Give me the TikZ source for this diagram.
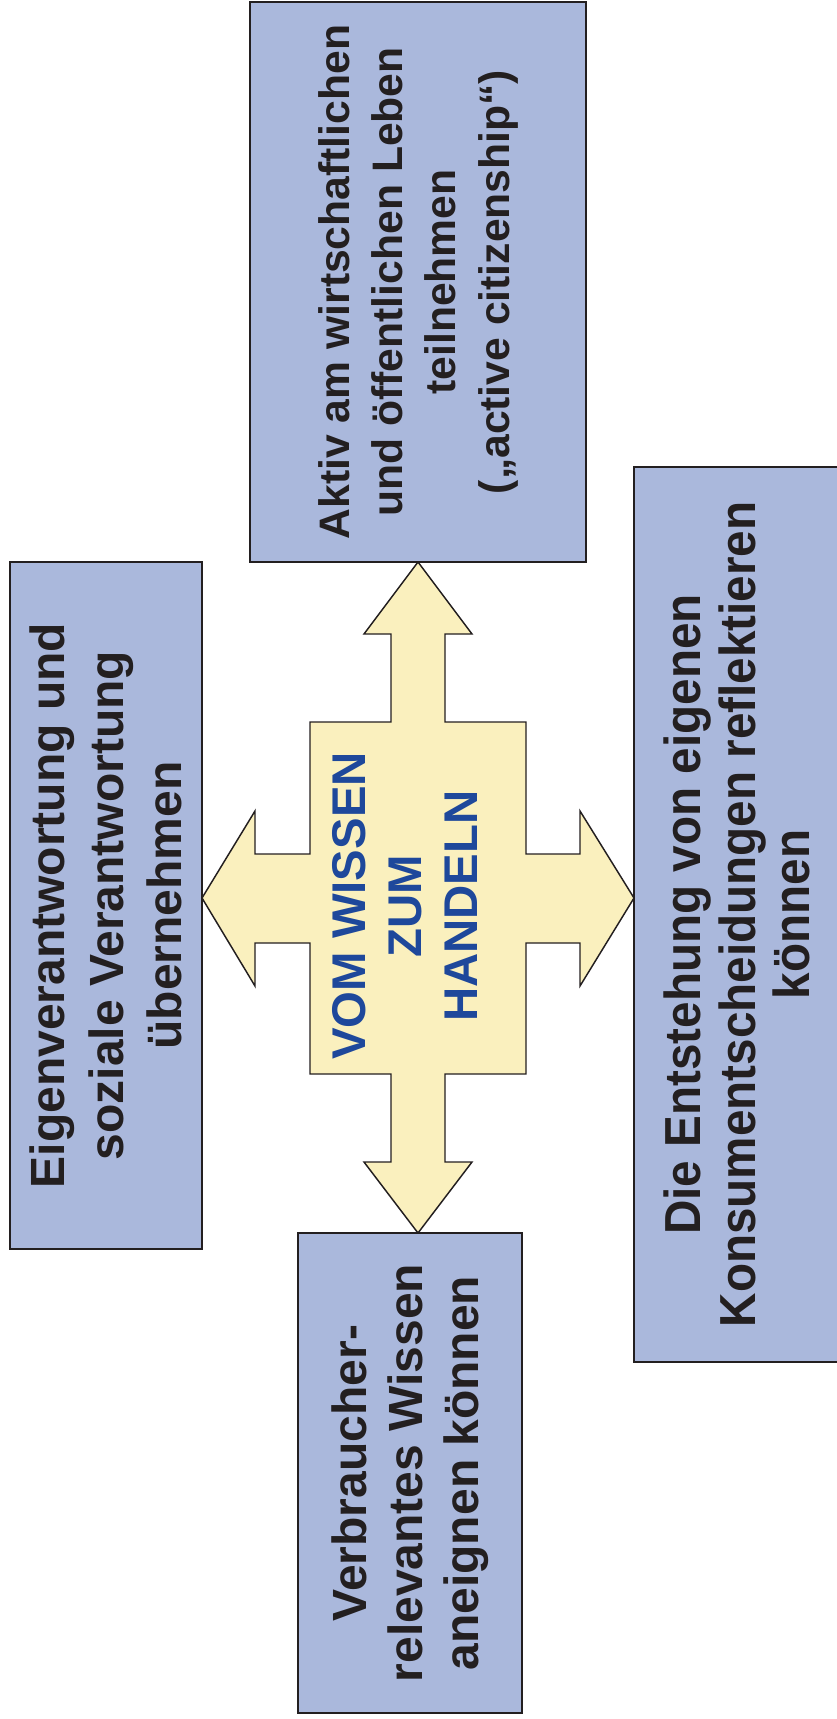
\documentclass[tikz,border=0pt]{standalone}
\usepackage{fontspec}
\setmainfont{Liberation Sans}
\newfontfamily\narrowfont[FakeStretch=0.94]{Liberation Sans}

\definecolor{boxblue}{RGB}{170,184,220}
\definecolor{crossyellow}{RGB}{250,240,190}
\definecolor{inkblack}{RGB}{35,31,32}
\definecolor{titleblue}{RGB}{30,72,155}

\tikzset{
  zielbox/.style={draw=inkblack, fill=boxblue, line width=1.1pt, rotate=90,
    align=center, text=inkblack, inner sep=0pt, outer sep=0pt},
}

\begin{document}
\begin{tikzpicture}[x=0.75pt,y=0.75pt,yscale=-1,xscale=1]
\useasboundingbox (0,0) rectangle (836,1719);

%Shape: Cross Arrow [id:cross]
\draw [draw=inkblack, fill=crossyellow, line width=1.1pt, line join=miter]
  (418,562) -- (472,634) -- (445,634) -- (445,722) -- (526,722) -- (526,854)
  -- (580,854) -- (580,811) -- (634,898) -- (580,986) -- (580,943) -- (526,943)
  -- (526,1074) -- (445,1074) -- (445,1162) -- (472,1162) -- (418,1233)
  -- (364,1162) -- (391,1162) -- (391,1074) -- (310,1074) -- (310,943)
  -- (255,943) -- (255,986) -- (202,898) -- (255,811) -- (255,854) -- (310,854)
  -- (310,722) -- (391,722) -- (391,634) -- (364,634) -- cycle ;

% Box Node
\node [zielbox, minimum width=420pt, minimum height=252pt,
  font=\bfseries\fontsize{32}{40}\selectfont] (aktiv) at (418,282)
  {Aktiv am wirtschaftlichen\\und öffentlichen Leben\\teilnehmen\\(„active citizenship“)};
% Box Node
\node [zielbox, minimum width=515.25pt, minimum height=144pt,
  font=\bfseries\fontsize{36}{44}\selectfont] (verantwortung) at (106,905.5)
  {Eigenverantwortung und\\soziale Verantwortung\\übernehmen};
% Box Node
\node [zielbox, minimum width=360pt, minimum height=168pt,
  font=\bfseries\fontsize{36}{42}\selectfont] (wissen) at (410,1473)
  {Verbraucher-\\relevantes Wissen\\aneignen können};
% Box Node
\node [zielbox, minimum width=671.25pt, minimum height=154.5pt,
  font=\narrowfont\bfseries\fontsize{38}{41}\selectfont] (konsum) at (737,914.5)
  {Die Entstehung von eigenen\\Konsumentscheidungen reflektieren\\können};

% Text Node
\node [rotate=90, align=center, text=titleblue, inner sep=0pt,
  font=\bfseries\fontsize{35.5}{42}\selectfont] (kern) at (405,906)
  {VOM WISSEN\\ZUM\\HANDELN};

\end{tikzpicture}
\end{document}
